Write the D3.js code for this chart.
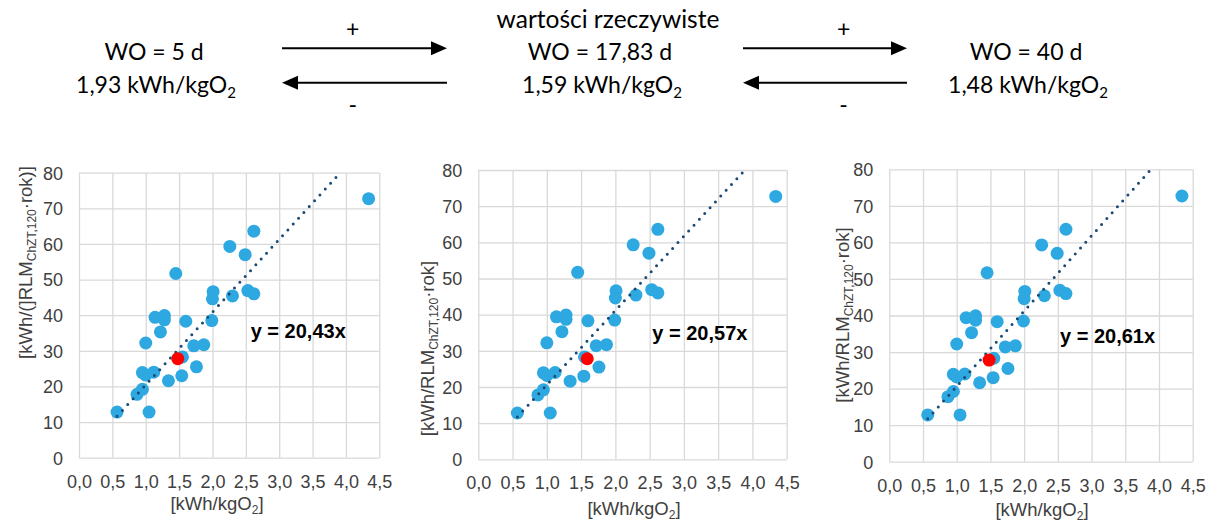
<!DOCTYPE html>
<html>
<head>
<meta charset="utf-8">
<script src="https://cdn.jsdelivr.net/npm/d3@7"></script>
<style>
  html, body { margin: 0; padding: 0; background: #fff; }
  svg { display: block; }
</style>
</head>
<body>
<svg id="chart" width="1214" height="524"></svg>
<script>
// ---------------- DATA ----------------
const blueX = [0.57, 1.05, 0.87, 0.95, 0.95, 1.00, 1.12, 1.34, 1.54, 1.76, 1.55, 1.72, 1.87, 1.00,
               1.22, 1.14, 1.28, 1.28, 1.60, 1.99, 2.00, 2.01, 2.30, 1.45, 2.26, 2.49, 2.53, 2.62, 2.62, 4.34];
const blueY = [12.8, 12.8, 17.8, 19.2, 23.9, 23.2, 24.0, 21.6, 23.0, 25.5, 28.3, 31.4, 31.7, 32.2,
               35.3, 39.4, 39.9, 38.7, 38.3, 38.5, 44.6, 46.6, 45.4, 51.7, 59.3, 57.0, 46.9, 46.0, 63.6, 72.7];
const redX = [1.48, 1.59, 1.48];
const redY = [27.8, 27.8, 27.8];
const slopes = [20.43, 20.57, 20.61];
const eqLabels = ["y = 20,43x", "y = 20,57x", "y = 20,61x"];
const xTickValues = [0, 0.5, 1, 1.5, 2, 2.5, 3, 3.5, 4, 4.5];
const xTickLabels = ["0,0", "0,5", "1,0", "1,5", "2,0", "2,5", "3,0", "3,5", "4,0", "4,5"];
const yTickValues = [0, 10, 20, 30, 40, 50, 60, 70, 80];
const yTitleMain1 = ["[kWh/(]RLM", "[kWh/RLM", "[kWh/RLM"];
const yTitleSub = ["ChZT,120", "ChZT,120", "ChZT,120"];
const yTitleMain2 = ["·rok)]", "·rok]", "·rok]"];
const xTitleMain = "[kWh/kgO";
const xTitleSub = "2";

// top scheme texts
const woLabels = ["WO = 5 d", "WO = 17,83 d", "WO = 40 d"];
const energyLabels = ["1,93 kWh/kgO", "1,59 kWh/kgO", "1,48 kWh/kgO"];
const middleCaption = "wartości rzeczywiste";
const arrowSigns = ["+", "-"];

// ---------------- LAYOUT ----------------
const panels = [
  {left: 79, right: 379.3, top: 172.7, bottom: 457.7, yTitleX: 31.5, yTitleY: 262.5, xTitleX: 217, xTitleY: 510, eqX: 250.7, eqY: 338.3},
  {left: 478.3, right: 786.7, top: 170, bottom: 459.3, yTitleX: 433.5, yTitleY: 348.5, xTitleX: 634, xTitleY: 515, eqX: 652.3, eqY: 340},
  {left: 889.3, right: 1192.7, top: 169.3, bottom: 461.7, yTitleX: 848.5, yTitleY: 315, xTitleX: 1042, xTitleY: 516, eqX: 1060, eqY: 343.3}
];

const svg = d3.select("#chart");
const axisFont = "'Liberation Sans', Arial, sans-serif";
const textColor = "#404040";
const gridColor = "#d9d9d9";
const blue = "#2ea8e0";
const red = "#ff0000";
const trendColor = "#1b4a74";

const defs = svg.append("defs");

panels.forEach((p, i) => {
  const x = d3.scaleLinear().domain([0, 4.5]).range([p.left, p.right]);
  const y = d3.scaleLinear().domain([0, 80]).range([p.bottom, p.top]);
  const g = svg.append("g");

  const gx = g.append("g")
    .attr("transform", `translate(0,${p.bottom})`)
    .call(d3.axisBottom(x).tickValues(xTickValues).tickSize(-(p.bottom - p.top)).tickFormat((d, k) => xTickLabels[k]).tickPadding(0));
  gx.select(".domain").remove();
  gx.selectAll("line").attr("stroke", gridColor).attr("stroke-width", 1.3);
  gx.selectAll("text")
    .attr("y", 30).attr("dy", null)
    .attr("fill", textColor).style("font-family", axisFont).style("font-size", "18px");

  const gy = g.append("g")
    .attr("transform", `translate(${p.left},0)`)
    .call(d3.axisLeft(y).tickValues(yTickValues).tickSize(-(p.right - p.left)).tickFormat(d3.format("d")).tickPadding(0));
  gy.select(".domain").remove();
  gy.selectAll("line").attr("stroke", gridColor).attr("stroke-width", 1.3);
  gy.selectAll("text")
    .attr("x", -16).attr("dy", "0.35em")
    .attr("fill", textColor).style("font-family", axisFont).style("font-size", "18px");

  const clipId = "clip" + i;
  defs.append("clipPath").attr("id", clipId)
    .append("rect").attr("x", p.left).attr("y", p.top - 2).attr("width", p.right - p.left).attr("height", p.bottom - p.top + 2);

  g.append("g").selectAll("circle").data(blueX.map((v, k) => [v, blueY[k]])).join("circle")
    .attr("cx", d => x(d[0])).attr("cy", d => y(d[1])).attr("r", 6.5).attr("fill", blue);

  const xmin = d3.min(blueX.concat([redX[i]]));
  const xmax = d3.max(blueX);
  const xEnd = Math.min(xmax, 80 / slopes[i]);
  g.append("line")
    .attr("clip-path", `url(#${clipId})`)
    .attr("x1", x(xmin)).attr("y1", y(slopes[i] * xmin))
    .attr("x2", x(xEnd)).attr("y2", y(slopes[i] * xEnd))
    .attr("stroke", trendColor).attr("stroke-width", 3)
    .attr("stroke-linecap", "round").attr("stroke-dasharray", "0 7.9");

  g.append("circle").attr("cx", x(redX[i])).attr("cy", y(redY[i])).attr("r", 6.5).attr("fill", red);

  g.append("text").attr("x", p.eqX).attr("y", p.eqY)
    .style("font-family", axisFont).style("font-size", "20px").style("font-weight", "bold")
    .attr("fill", "#000").text(eqLabels[i]);

  const xt = g.append("text").attr("x", p.xTitleX).attr("y", p.xTitleY).attr("text-anchor", "middle")
    .style("font-family", axisFont).style("font-size", "18.5px").attr("fill", textColor);
  xt.append("tspan").text(xTitleMain);
  xt.append("tspan").attr("dy", 4).style("font-size", "12px").text(xTitleSub);
  xt.append("tspan").attr("dy", -4).text("]");

  const yt = g.append("text")
    .attr("transform", `translate(${p.yTitleX},${p.yTitleY}) rotate(-90)`)
    .attr("text-anchor", "middle")
    .style("font-family", axisFont).style("font-size", "18.5px").attr("fill", textColor);
  yt.append("tspan").text(yTitleMain1[i]);
  yt.append("tspan").attr("dy", 4).style("font-size", "12px").text(yTitleSub[i]);
  yt.append("tspan").attr("dy", -4).text(yTitleMain2[i]);
});

// ---------------- TOP SCHEME ----------------
const topFont = "Lato, 'Open Sans', sans-serif";
const colCenters = [154, 600, 1026];
const topG = svg.append("g").style("font-family", topFont).attr("fill", "#000");

topG.append("text").attr("x", 608).attr("y", 28).attr("text-anchor", "middle")
  .style("font-size", "24.5px").text(middleCaption);

woLabels.forEach((t, k) => {
  topG.append("text").attr("x", colCenters[k]).attr("y", 60).attr("text-anchor", "middle")
    .style("font-size", "23px").text(t);
  const e = topG.append("text").attr("x", colCenters[k] + 2).attr("y", 93).attr("text-anchor", "middle")
    .style("font-size", "23px");
  e.append("tspan").text(energyLabels[k]);
  e.append("tspan").attr("dy", 5).style("font-size", "15px").text("2");
});

const arrowPairs = [[282, 447, 352.7], [743, 907, 843.6]];
arrowPairs.forEach(a => {
  topG.append("line").attr("x1", a[0]).attr("x2", a[1] - 14).attr("y1", 48.3).attr("y2", 48.3)
    .attr("stroke", "#000").attr("stroke-width", 2);
  topG.append("path").attr("d", `M${a[1]},48.3 L${a[1] - 16},41.3 L${a[1] - 16},55.3 Z`).attr("fill", "#000");
  topG.append("text").attr("x", a[2]).attr("y", 37).attr("text-anchor", "middle").style("font-size", "23px").text(arrowSigns[0]);
  topG.append("line").attr("x1", a[0] + 14).attr("x2", a[1]).attr("y1", 82.7).attr("y2", 82.7)
    .attr("stroke", "#000").attr("stroke-width", 2);
  topG.append("path").attr("d", `M${a[0]},82.7 L${a[0] + 16},75.7 L${a[0] + 16},89.7 Z`).attr("fill", "#000");
  topG.append("text").attr("x", a[2]).attr("y", 113).attr("text-anchor", "middle").style("font-size", "23px").text(arrowSigns[1]);
});
</script>
</body>
</html>
